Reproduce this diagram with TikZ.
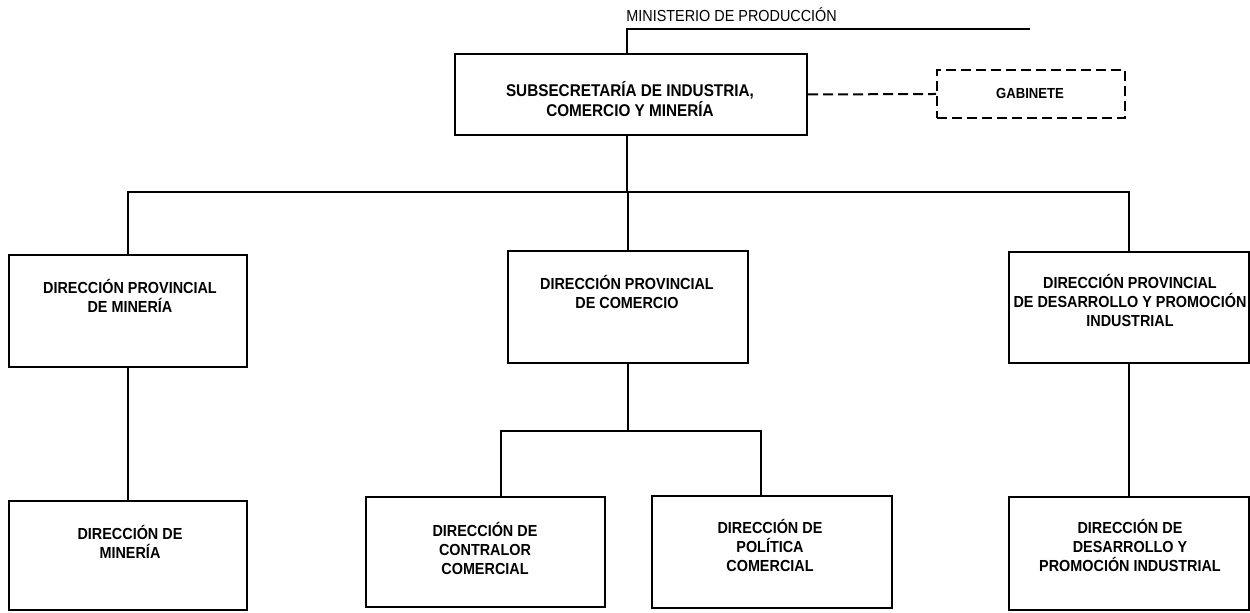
\documentclass[tikz,border=0pt]{standalone}
\usepackage{fontspec}
\setmainfont{Liberation Sans}[FakeStretch=0.9]
\usetikzlibrary{fit}
\newcommand{\fstln}{\rule{0pt}{0.95em}}
\begin{document}
\begin{tikzpicture}[x=0.5pt,y=-0.5pt,
  orgbox/.style={draw, line width=1.2pt, inner sep=0pt},
  gabbox/.style={draw, line width=1pt, dash pattern=on 5pt off 2.5pt, inner sep=0pt},
  conn/.style={line width=0.7pt},
  dconn/.style={line width=1pt, dash pattern=on 5pt off 2.5pt},
  lbl/.style={font=\bfseries\fontsize{8}{9.5}\selectfont, align=center, inner sep=0pt, anchor=north},
  toplbl/.style={font=\bfseries\fontsize{8.5}{10}\selectfont, align=center, inner sep=0pt, anchor=north},
  minlbl/.style={font=\fontsize{8}{9.5}\selectfont, inner sep=0pt, anchor=base west},
  gablbl/.style={font=\bfseries\fontsize{7.3}{9}\selectfont, inner sep=0pt}]
\useasboundingbox (0,0) rectangle (1250,613);

% boxes
\node[orgbox, fit={(455,54) (807,135)}] (sub) {};
\node[gabbox, fit={(937,70) (1125,118)}] (gab) {};
\node[orgbox, fit={(9,255) (247,367)}] (lp) {};
\node[orgbox, fit={(508,251) (748,363)}] (cp) {};
\node[orgbox, fit={(1009,252) (1249,363)}] (rp) {};
\node[orgbox, fit={(9,501) (247,610)}] (lm) {};
\node[orgbox, fit={(366,497) (605,607)}] (cc) {};
\node[orgbox, fit={(652,496) (892,608)}] (cpo) {};
\node[orgbox, fit={(1009,497) (1249,610)}] (rd) {};

% texts
\node[minlbl] (min) at (626,22) {MINISTERIO DE PRODUCCIÓN};
\node[toplbl] (subt) at (630,80) {\fstln SUBSECRETARÍA DE INDUSTRIA,\\COMERCIO Y MINERÍA};
\node[gablbl] (gabt) at (1030,93) {GABINETE};
\node[lbl] (lpt) at (130,277.5) {\fstln DIRECCIÓN PROVINCIAL\\DE MINERÍA};
\node[lbl] (cpt) at (627,273.5) {\fstln DIRECCIÓN PROVINCIAL\\DE COMERCIO};
\node[lbl] (rpt) at (1130,272.5) {\fstln DIRECCIÓN PROVINCIAL\\DE DESARROLLO Y PROMOCIÓN\\INDUSTRIAL};
\node[lbl] (lmt) at (130,523.5) {\fstln DIRECCIÓN DE\\MINERÍA};
\node[lbl] (cct) at (485,520.5) {\fstln DIRECCIÓN DE\\CONTRALOR\\COMERCIAL};
\node[lbl] (cpot) at (770,517.5) {\fstln DIRECCIÓN DE\\POLÍTICA\\COMERCIAL};
\node[lbl] (rdt) at (1130,517.5) {\fstln DIRECCIÓN DE\\DESARROLLO Y\\PROMOCIÓN INDUSTRIAL};

% connectors
\coordinate (m1) at (627,29);
\coordinate (m2) at (1030,29);
\coordinate (bus) at (627,192);
\coordinate (cbl) at (501,431);
\coordinate (cbr) at (761,431);

\draw[conn] (m2) -- (m1) -- (m1 |- sub.north);
\draw[conn] (bus |- sub.south) -- (bus);
\draw[conn] (lp.north) -- (lp.north |- bus) -- (rp.north |- bus) -- (rp.north);
\draw[conn] (cp.north) -- (cp.north |- bus);
\draw[dconn] (sub.east) -- (gab.west);
\draw[conn] (lp.south) -- (lp.south |- lm.north);
\draw[conn] (cp.south) -- (cp.south |- cbl);
\draw[conn] (cc.north -| cbl) -- (cbl) -- (cbr) -- (cpo.north -| cbr);
\draw[conn] (rp.south) -- (rp.south |- rd.north);
\end{tikzpicture}
\end{document}
